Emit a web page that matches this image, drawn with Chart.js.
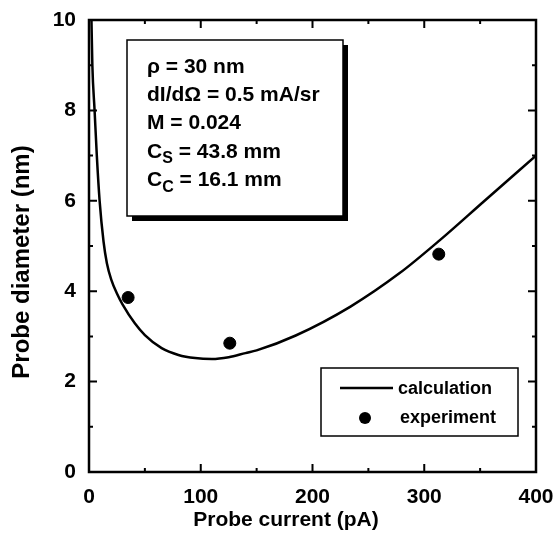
<!DOCTYPE html>
<html>
<head>
<meta charset="utf-8">
<script src="https://cdn.jsdelivr.net/npm/chart.js@4.4.1/dist/chart.umd.min.js"></script>
<style>
  html, body { margin: 0; padding: 0; background: #fff; }
  #wrap { width: 557px; height: 551px; }
</style>
</head>
<body>
<div id="wrap"><canvas id="probeChart" width="557" height="551"></canvas></div>
<script>
// calculated curve
var calcCurrent = [2.2, 3, 5, 7, 9.5, 13, 16, 20, 25, 30, 41, 50, 65, 80, 95, 110, 125, 140, 150, 185, 234, 278, 314, 353, 400];
var calcDiameter = [10, 9.0, 8.0, 7.0, 6.0, 5.1, 4.62, 4.25, 3.95, 3.71, 3.29, 3.03, 2.74, 2.59, 2.52, 2.50, 2.54, 2.63, 2.69, 3.02, 3.66, 4.40, 5.13, 5.98, 7.0];

// measured points
var expCurrent = [35, 126, 313];
var expDiameter = [3.86, 2.85, 4.82];

var xTicks = [0, 100, 200, 300, 400];
var yTicks = [0, 2, 4, 6, 8, 10];

var xTitle = 'Probe current (pA)';
var yTitle = 'Probe diameter (nm)';

// parameter box: [main, subscript, rest]
var paramLines = [
    ['ρ = 30 nm', '', ''],
    ['dI/dΩ = 0.5 mA/sr', '', ''],
    ['M = 0.024', '', ''],
    ['C', 'S', ' = 43.8 mm'],
    ['C', 'C', ' = 16.1 mm']
];

var FONT = '"Liberation Sans", Arial, Helvetica, sans-serif';

function toXY(xs, ys) {
    return xs.map(function(x, i) { return { x: x, y: ys[i] }; });
}

// frame, inward ticks, axis titles, parameter box and legend
var decorations = {
    id: 'decorations',
    afterDraw: function(chart) {
        var ctx = chart.ctx;
        var a = chart.chartArea;
        var xs = chart.scales.x, ys = chart.scales.y;
        ctx.save();
        ctx.strokeStyle = '#000';
        ctx.fillStyle = '#000';

        // frame
        ctx.lineWidth = 2.5;
        ctx.strokeRect(a.left, a.top, a.right - a.left, a.bottom - a.top);

        // ticks (major + half-step minor), mirrored on all sides
        ctx.lineWidth = 2;
        ctx.beginPath();
        for (var v = 0; v <= 400; v += 50) {
            var px = xs.getPixelForValue(v);
            var len = (v % 100 === 0) ? 8 : 4;
            ctx.moveTo(px, a.bottom); ctx.lineTo(px, a.bottom - len);
            ctx.moveTo(px, a.top); ctx.lineTo(px, a.top + len);
        }
        for (var w = 0; w <= 10; w += 1) {
            var py = ys.getPixelForValue(w);
            var l2 = (w % 2 === 0) ? 8 : 4;
            ctx.moveTo(a.left, py); ctx.lineTo(a.left + l2, py);
            ctx.moveTo(a.right, py); ctx.lineTo(a.right - l2, py);
        }
        ctx.stroke();

        // axis titles
        ctx.textAlign = 'center';
        ctx.textBaseline = 'middle';
        ctx.font = 'bold 21px ' + FONT;
        ctx.fillText(xTitle, 286, 520);
        ctx.save();
        ctx.translate(22, 262);
        ctx.rotate(-Math.PI / 2);
        ctx.font = 'bold 24px ' + FONT;
        ctx.fillText(yTitle, 0, 0);
        ctx.restore();

        // parameter box with drop shadow
        var bx = 127, by = 40, bw = 216, bh = 176;
        ctx.fillStyle = '#000';
        ctx.fillRect(bx + 5, by + bh, bw, 5);
        ctx.fillRect(bx + bw, by + 5, 5, bh);
        ctx.fillStyle = '#fff';
        ctx.fillRect(bx, by, bw, bh);
        ctx.lineWidth = 1.5;
        ctx.strokeRect(bx, by, bw, bh);

        ctx.fillStyle = '#000';
        ctx.textAlign = 'left';
        paramLines.forEach(function(line, i) {
            var ty = 67 + i * 28.3;
            var tx = 147;
            ctx.font = 'bold 21px ' + FONT;
            ctx.fillText(line[0], tx, ty);
            tx += ctx.measureText(line[0]).width;
            if (line[1]) {
                ctx.font = 'bold 16px ' + FONT;
                ctx.fillText(line[1], tx, ty + 7);
                tx += ctx.measureText(line[1]).width;
                ctx.font = 'bold 21px ' + FONT;
                ctx.fillText(line[2], tx, ty);
            }
        });

        // legend
        var lx = 321, ly = 368, lw = 197, lh = 68;
        ctx.fillStyle = '#fff';
        ctx.fillRect(lx, ly, lw, lh);
        ctx.lineWidth = 1.5;
        ctx.strokeRect(lx, ly, lw, lh);
        ctx.fillStyle = '#000';
        ctx.font = 'bold 18px ' + FONT;
        var ds = chart.data.datasets;
        ctx.lineWidth = 2.5;
        ctx.beginPath();
        ctx.moveTo(340, 388); ctx.lineTo(393, 388);
        ctx.stroke();
        ctx.fillText(ds[0].label, 398, 389);
        ctx.beginPath();
        ctx.arc(365, 418, 6, 0, Math.PI * 2);
        ctx.fill();
        ctx.fillText(ds[1].label, 400, 418);

        ctx.restore();
    }
};

new Chart(document.getElementById('probeChart').getContext('2d'), {
    type: 'scatter',
    data: {
        datasets: [{
            label: 'calculation',
            data: toXY(calcCurrent, calcDiameter),
            showLine: true,
            borderColor: '#000',
            borderWidth: 2.5,
            pointRadius: 0,
            cubicInterpolationMode: 'monotone',
            fill: false
        }, {
            label: 'experiment',
            data: toXY(expCurrent, expDiameter),
            showLine: false,
            backgroundColor: '#000',
            borderColor: '#000',
            pointRadius: 6,
            pointHoverRadius: 6
        }]
    },
    options: {
        responsive: false,
        animation: false,
        layout: { padding: { top: 20, right: 21, left: 0, bottom: 0 } },
        plugins: {
            legend: { display: false },
            tooltip: { enabled: false }
        },
        scales: {
            x: {
                type: 'linear',
                min: 0,
                max: 400,
                afterFit: function(s) { s.height = 79; s.paddingLeft = 0; s.paddingRight = 0; },
                afterBuildTicks: function(s) { s.ticks = xTicks.map(function(v) { return { value: v }; }); },
                grid: { display: false, drawTicks: false },
                border: { display: false },
                ticks: {
                    color: '#000',
                    padding: 13,
                    maxRotation: 0,
                    font: { family: FONT, size: 21, weight: 'bold' }
                },
                title: { display: false }
            },
            y: {
                type: 'linear',
                min: 0,
                max: 10,
                afterFit: function(s) { s.width = 89; s.paddingTop = 0; s.paddingBottom = 0; },
                afterBuildTicks: function(s) { s.ticks = yTicks.map(function(v) { return { value: v }; }); },
                grid: { display: false, drawTicks: false },
                border: { display: false },
                ticks: {
                    color: '#000',
                    padding: 13,
                    font: { family: FONT, size: 21, weight: 'bold' }
                },
                title: { display: false }
            }
        }
    },
    plugins: [decorations]
});
</script>
</body>
</html>
